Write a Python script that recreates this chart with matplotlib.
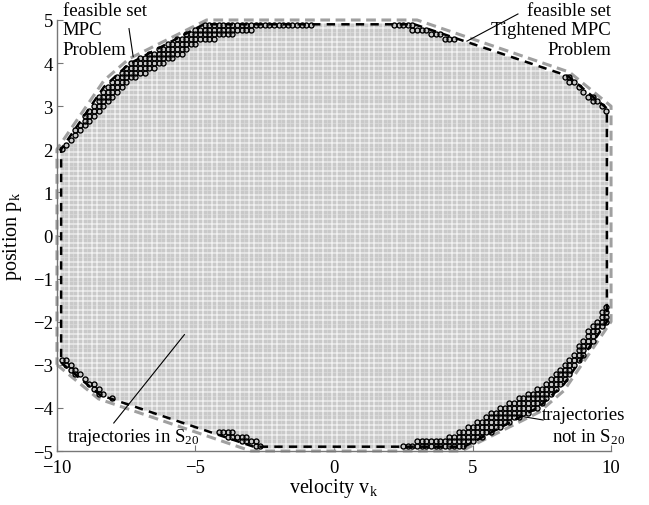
import matplotlib.pyplot as plt
import numpy as np
from matplotlib.path import Path

plt.rcParams['font.family'] = ['Liberation Serif', 'DejaVu Serif']
plt.rcParams['mathtext.fontset'] = 'custom'
plt.rcParams['mathtext.rm'] = 'Liberation Serif'
plt.rcParams['mathtext.it'] = 'Liberation Serif:italic'
plt.rcParams['lines.scale_dashes'] = False

# sampled initial states (velocity, position)
v_grid = np.linspace(-10, 10, 121)
p_grid = np.linspace(-5, 5, 91)

# feasible set of the MPC problem (gray dashed)
feas_v = [-10, -8.5, -3.0, 4.6, 7.4, 8.3, 10, 10, 8.5, 3.0, -4.6, -7.4, -8.3, -10]
feas_p = [-3.0, -3.79, -5.0, -5.0, -4.1, -3.6, -2.0, 3.0, 3.79, 5.0, 5.0, 4.1, 3.6, 2.0]

# feasible set of the tightened MPC problem (black dashed)
tight_v = [-9.85, -8.45, -2.9, 4.7, 7.4, 8.3, 9.85, 9.85, 8.45, 2.9, -4.7, -7.4, -8.3, -9.85]
tight_p = [-2.95, -3.7, -4.9, -4.9, -3.98, -3.45, -2.0, 2.95, 3.7, 4.9, 4.9, 3.98, 3.45, 2.0]

# region whose trajectories stay in S20
s20_v = [-9.9, -8.45, -7.4, -4.3, -4.1, -2.7, -2.6, 2.4, 2.5, 4.0, 4.7, 7.4, 8.3, 9.9,
         9.9, 8.3, 8.1, 4.4, 4.3, 2.9, 2.2, 2.1, -0.75, -0.85, -2.7, -4.7, -7.4, -8.3, -9.9]
s20_p = [-2.75, -3.55, -4.0, -4.65, -4.45, -4.75, -4.95, -4.95, -4.8, -4.7, -4.45, -3.5, -3.0, -1.55,
         2.8, 3.65, 3.85, 4.65, 4.5, 4.75, 4.84, 4.95, 4.95, 4.84, 4.8, 4.5, 3.55, 3.0, 1.85]

V, P = np.meshgrid(v_grid, p_grid)
pts = np.column_stack([V.ravel(), P.ravel()])
in_tight = Path(np.column_stack([tight_v, tight_p])).contains_points(pts)
in_s20 = Path(np.column_stack([s20_v, s20_p])).contains_points(pts)
not_s20 = in_tight & ~in_s20

fig = plt.figure(figsize=(6.49, 5.06), dpi=100)
ax = fig.add_axes([0.0878, 0.1067, 0.8537, 0.8518])

ax.plot(pts[in_tight, 0], pts[in_tight, 1], 's', ms=2.4, color='#c9c9c9', mec='none')
ax.plot(feas_v + feas_v[:1], feas_p + feas_p[:1], '--', color='#a0a0a0', lw=2.2,
        dashes=(7, 4), clip_on=False)
ax.plot(tight_v + tight_v[:1], tight_p + tight_p[:1], '--', color='k', lw=1.8,
        dashes=(6, 4.5), clip_on=False)
ax.plot(pts[not_s20, 0], pts[not_s20, 1], 'o', ms=3.6, mfc='none', mec='k', mew=1.0,
        clip_on=False)

# annotations
ax.text(-9.8, 5.42, 'feasible set\nMPC\nProblem', ha='left', va='top', fontsize=13.5)
ax.plot([-7.4, -7.25], [4.8, 4.15], 'k-', lw=0.8, clip_on=False)
ax.text(10.0, 5.42, 'feasible set\nTightened MPC\nProblem', ha='right', va='top',
        multialignment='right', fontsize=13.5)
ax.plot([6.64, 4.8], [5.14, 4.51], 'k-', lw=0.8, clip_on=False)
ax.text(-9.65, -4.77, 'trajectories in S$_{20}$', ha='left', va='baseline', fontsize=13.5)
ax.plot([-7.95, -5.4], [-4.35, -2.3], 'k-', lw=0.8)
ax.text(10.5, -3.96, 'trajectories\nnot in S$_{20}$', ha='right', va='top',
        multialignment='right', fontsize=13.5)
ax.plot([6.8, 7.55], [-4.2, -4.28], 'k-', lw=0.8)

ax.set_xlim(-10, 10)
ax.set_ylim(-5, 5)
ax.set_xticks([-10, -5, 0, 5, 10])
ax.set_yticks(np.arange(-5, 6, 1))
for s in ['top', 'right']:
    ax.spines[s].set_visible(False)
for s in ['left', 'bottom']:
    ax.spines[s].set_color('#777777')
    ax.spines[s].set_linewidth(1.0)
ax.tick_params(direction='in', length=4, color='#777777', labelsize=13.5, pad=3)
ax.tick_params(axis='x', pad=6)
ax.set_xlabel('velocity v$_{\\rm k}$', fontsize=14.5, labelpad=0)
ax.set_ylabel('position p$_{\\rm k}$', fontsize=14.5, labelpad=6)

fig.savefig('out.png', dpi=100)
